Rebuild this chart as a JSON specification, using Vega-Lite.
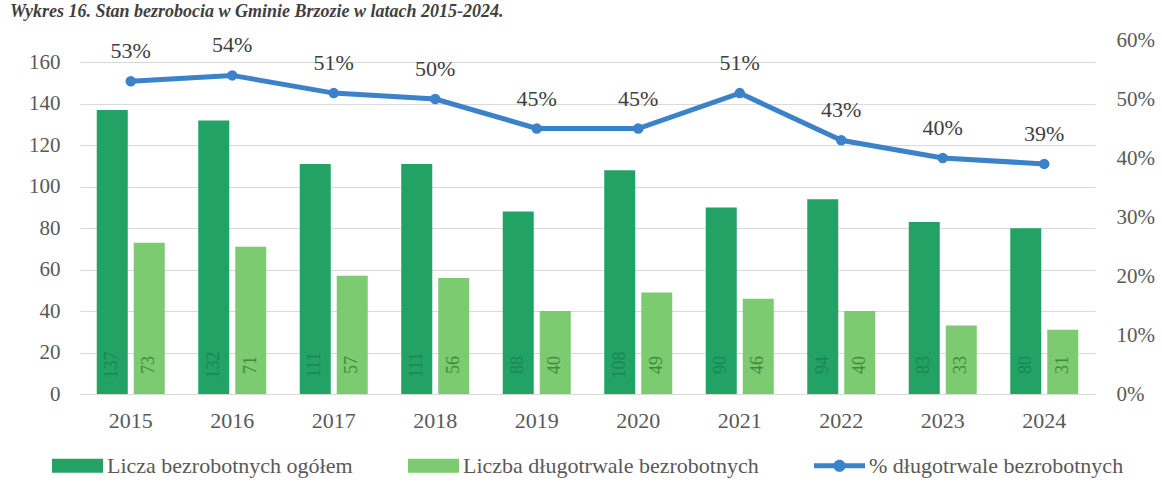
{
  "$schema": "https://vega.github.io/schema/vega-lite/v6.json",
  "width": 1015,
  "height": 354,
  "autosize": {"type": "none"},
  "padding": {"left": 80, "top": 40, "right": 67, "bottom": 105},
  "background": "white",
  "title": {
    "text": "Wykres 16. Stan bezrobocia w Gminie Brzozie w latach 2015-2024.",
    "anchor": "start",
    "frame": "group",
    "dx": -70,
    "offset": -10,
    "baseline": "bottom",
    "font": "Liberation Serif",
    "fontStyle": "italic",
    "fontWeight": "bold",
    "fontSize": 18,
    "color": "#404040"
  },
  "datasets": {
    "bars": [
      {"year": "2015", "series": "Licza bezrobotnych ogółem", "value": 137},
      {"year": "2015", "series": "Liczba długotrwale bezrobotnych", "value": 73},
      {"year": "2016", "series": "Licza bezrobotnych ogółem", "value": 132},
      {"year": "2016", "series": "Liczba długotrwale bezrobotnych", "value": 71},
      {"year": "2017", "series": "Licza bezrobotnych ogółem", "value": 111},
      {"year": "2017", "series": "Liczba długotrwale bezrobotnych", "value": 57},
      {"year": "2018", "series": "Licza bezrobotnych ogółem", "value": 111},
      {"year": "2018", "series": "Liczba długotrwale bezrobotnych", "value": 56},
      {"year": "2019", "series": "Licza bezrobotnych ogółem", "value": 88},
      {"year": "2019", "series": "Liczba długotrwale bezrobotnych", "value": 40},
      {"year": "2020", "series": "Licza bezrobotnych ogółem", "value": 108},
      {"year": "2020", "series": "Liczba długotrwale bezrobotnych", "value": 49},
      {"year": "2021", "series": "Licza bezrobotnych ogółem", "value": 90},
      {"year": "2021", "series": "Liczba długotrwale bezrobotnych", "value": 46},
      {"year": "2022", "series": "Licza bezrobotnych ogółem", "value": 94},
      {"year": "2022", "series": "Liczba długotrwale bezrobotnych", "value": 40},
      {"year": "2023", "series": "Licza bezrobotnych ogółem", "value": 83},
      {"year": "2023", "series": "Liczba długotrwale bezrobotnych", "value": 33},
      {"year": "2024", "series": "Licza bezrobotnych ogółem", "value": 80},
      {"year": "2024", "series": "Liczba długotrwale bezrobotnych", "value": 31}
    ],
    "pct": [
      {"year": "2015", "series": "% długotrwale bezrobotnych", "pct": 0.53},
      {"year": "2016", "series": "% długotrwale bezrobotnych", "pct": 0.54},
      {"year": "2017", "series": "% długotrwale bezrobotnych", "pct": 0.51},
      {"year": "2018", "series": "% długotrwale bezrobotnych", "pct": 0.50},
      {"year": "2019", "series": "% długotrwale bezrobotnych", "pct": 0.45},
      {"year": "2020", "series": "% długotrwale bezrobotnych", "pct": 0.45},
      {"year": "2021", "series": "% długotrwale bezrobotnych", "pct": 0.51},
      {"year": "2022", "series": "% długotrwale bezrobotnych", "pct": 0.43},
      {"year": "2023", "series": "% długotrwale bezrobotnych", "pct": 0.40},
      {"year": "2024", "series": "% długotrwale bezrobotnych", "pct": 0.39}
    ]
  },
  "encoding": {
    "x": {
      "field": "year",
      "type": "ordinal",
      "scale": {"paddingInner": 0.33, "paddingOuter": 0.165},
      "axis": {
        "title": null,
        "labelAngle": 0,
        "domain": false,
        "ticks": false,
        "labelFont": "Liberation Serif",
        "labelFontSize": 22,
        "labelColor": "#595959",
        "labelPadding": 16
      }
    }
  },
  "layer": [
    {
      "data": {"name": "bars"},
      "layer": [
        {
          "mark": {"type": "bar"},
          "encoding": {
            "xOffset": {
              "field": "series",
              "type": "nominal",
              "scale": {"domain": ["Licza bezrobotnych ogółem", "Liczba długotrwale bezrobotnych"], "paddingInner": 0.162, "paddingOuter": 0}
            },
            "y": {
              "field": "value",
              "type": "quantitative",
              "scale": {"domain": [0, 170.8], "nice": false},
              "axis": {
                "title": null,
                "values": [0, 20, 40, 60, 80, 100, 120, 140, 160],
                "grid": true,
                "gridColor": "#d9d9d9",
                "gridWidth": 1,
                "domain": false,
                "ticks": false,
                "labelFont": "Liberation Serif",
                "labelFontSize": 21,
                "labelColor": "#595959",
                "labelPadding": 20
              }
            },
            "color": {
              "field": "series",
              "type": "nominal",
              "scale": {
                "domain": ["Licza bezrobotnych ogółem", "Liczba długotrwale bezrobotnych", "% długotrwale bezrobotnych"],
                "range": ["#22a265", "#7ccb70", "#3b82c8"]
              },
              "legend": {
                "title": null,
                "orient": "none",
                "legendX": -28,
                "legendY": 400,
                "direction": "horizontal",
                "labelFont": "Liberation Serif",
                "labelFontSize": 22,
                "labelColor": "#595959",
                "labelLimit": 500,
                "labelOffset": 4,
                "columnPadding": 55,
                "symbolSize": 2601,
                "symbolStrokeWidth": 0,
                "symbolType": {"expr": "datum.value === '% długotrwale bezrobotnych' ? 'M-1,-0.1H1V0.1H-1Z M-0.24,0A0.24,0.24 0 1,1 0.24,0A0.24,0.24 0 1,1 -0.24,0Z' : 'M-1,-0.27H1V0.27H-1Z'"}
              }
            }
          }
        },
        {
          "mark": {"type": "text", "angle": 270, "align": "center", "baseline": "middle", "dx": 29, "font": "Liberation Serif", "fontSize": 18},
          "encoding": {
            "xOffset": {"field": "series", "type": "nominal"},
            "y": {"datum": 0, "type": "quantitative"},
            "text": {"field": "value", "type": "quantitative", "format": "d"},
            "color": {
              "condition": {"test": "datum.series === 'Licza bezrobotnych ogółem'", "value": "#1b8653"},
              "value": "#3e8a3c"
            }
          }
        }
      ]
    },
    {
      "data": {"name": "pct"},
      "layer": [
        {
          "mark": {"type": "line", "strokeWidth": 5, "point": {"filled": true, "size": 110}},
          "encoding": {
            "y": {
              "field": "pct",
              "type": "quantitative",
              "scale": {"domain": [0, 0.6], "nice": false},
              "axis": {
                "title": null,
                "orient": "right",
                "values": [0, 0.1, 0.2, 0.3, 0.4, 0.5, 0.6],
                "format": ".0%",
                "grid": false,
                "domain": false,
                "ticks": false,
                "labelFont": "Liberation Serif",
                "labelFontSize": 21,
                "labelColor": "#595959",
                "labelPadding": 21
              }
            },
            "color": {"field": "series", "type": "nominal"}
          }
        },
        {
          "mark": {"type": "text", "align": "center", "baseline": "middle", "dy": -30, "font": "Liberation Serif", "fontSize": 22, "color": "#404040"},
          "encoding": {
            "y": {"field": "pct", "type": "quantitative"},
            "text": {"field": "pct", "type": "quantitative", "format": ".0%"}
          }
        }
      ]
    }
  ],
  "resolve": {"scale": {"y": "independent"}},
  "config": {"view": {"stroke": null}}
}
